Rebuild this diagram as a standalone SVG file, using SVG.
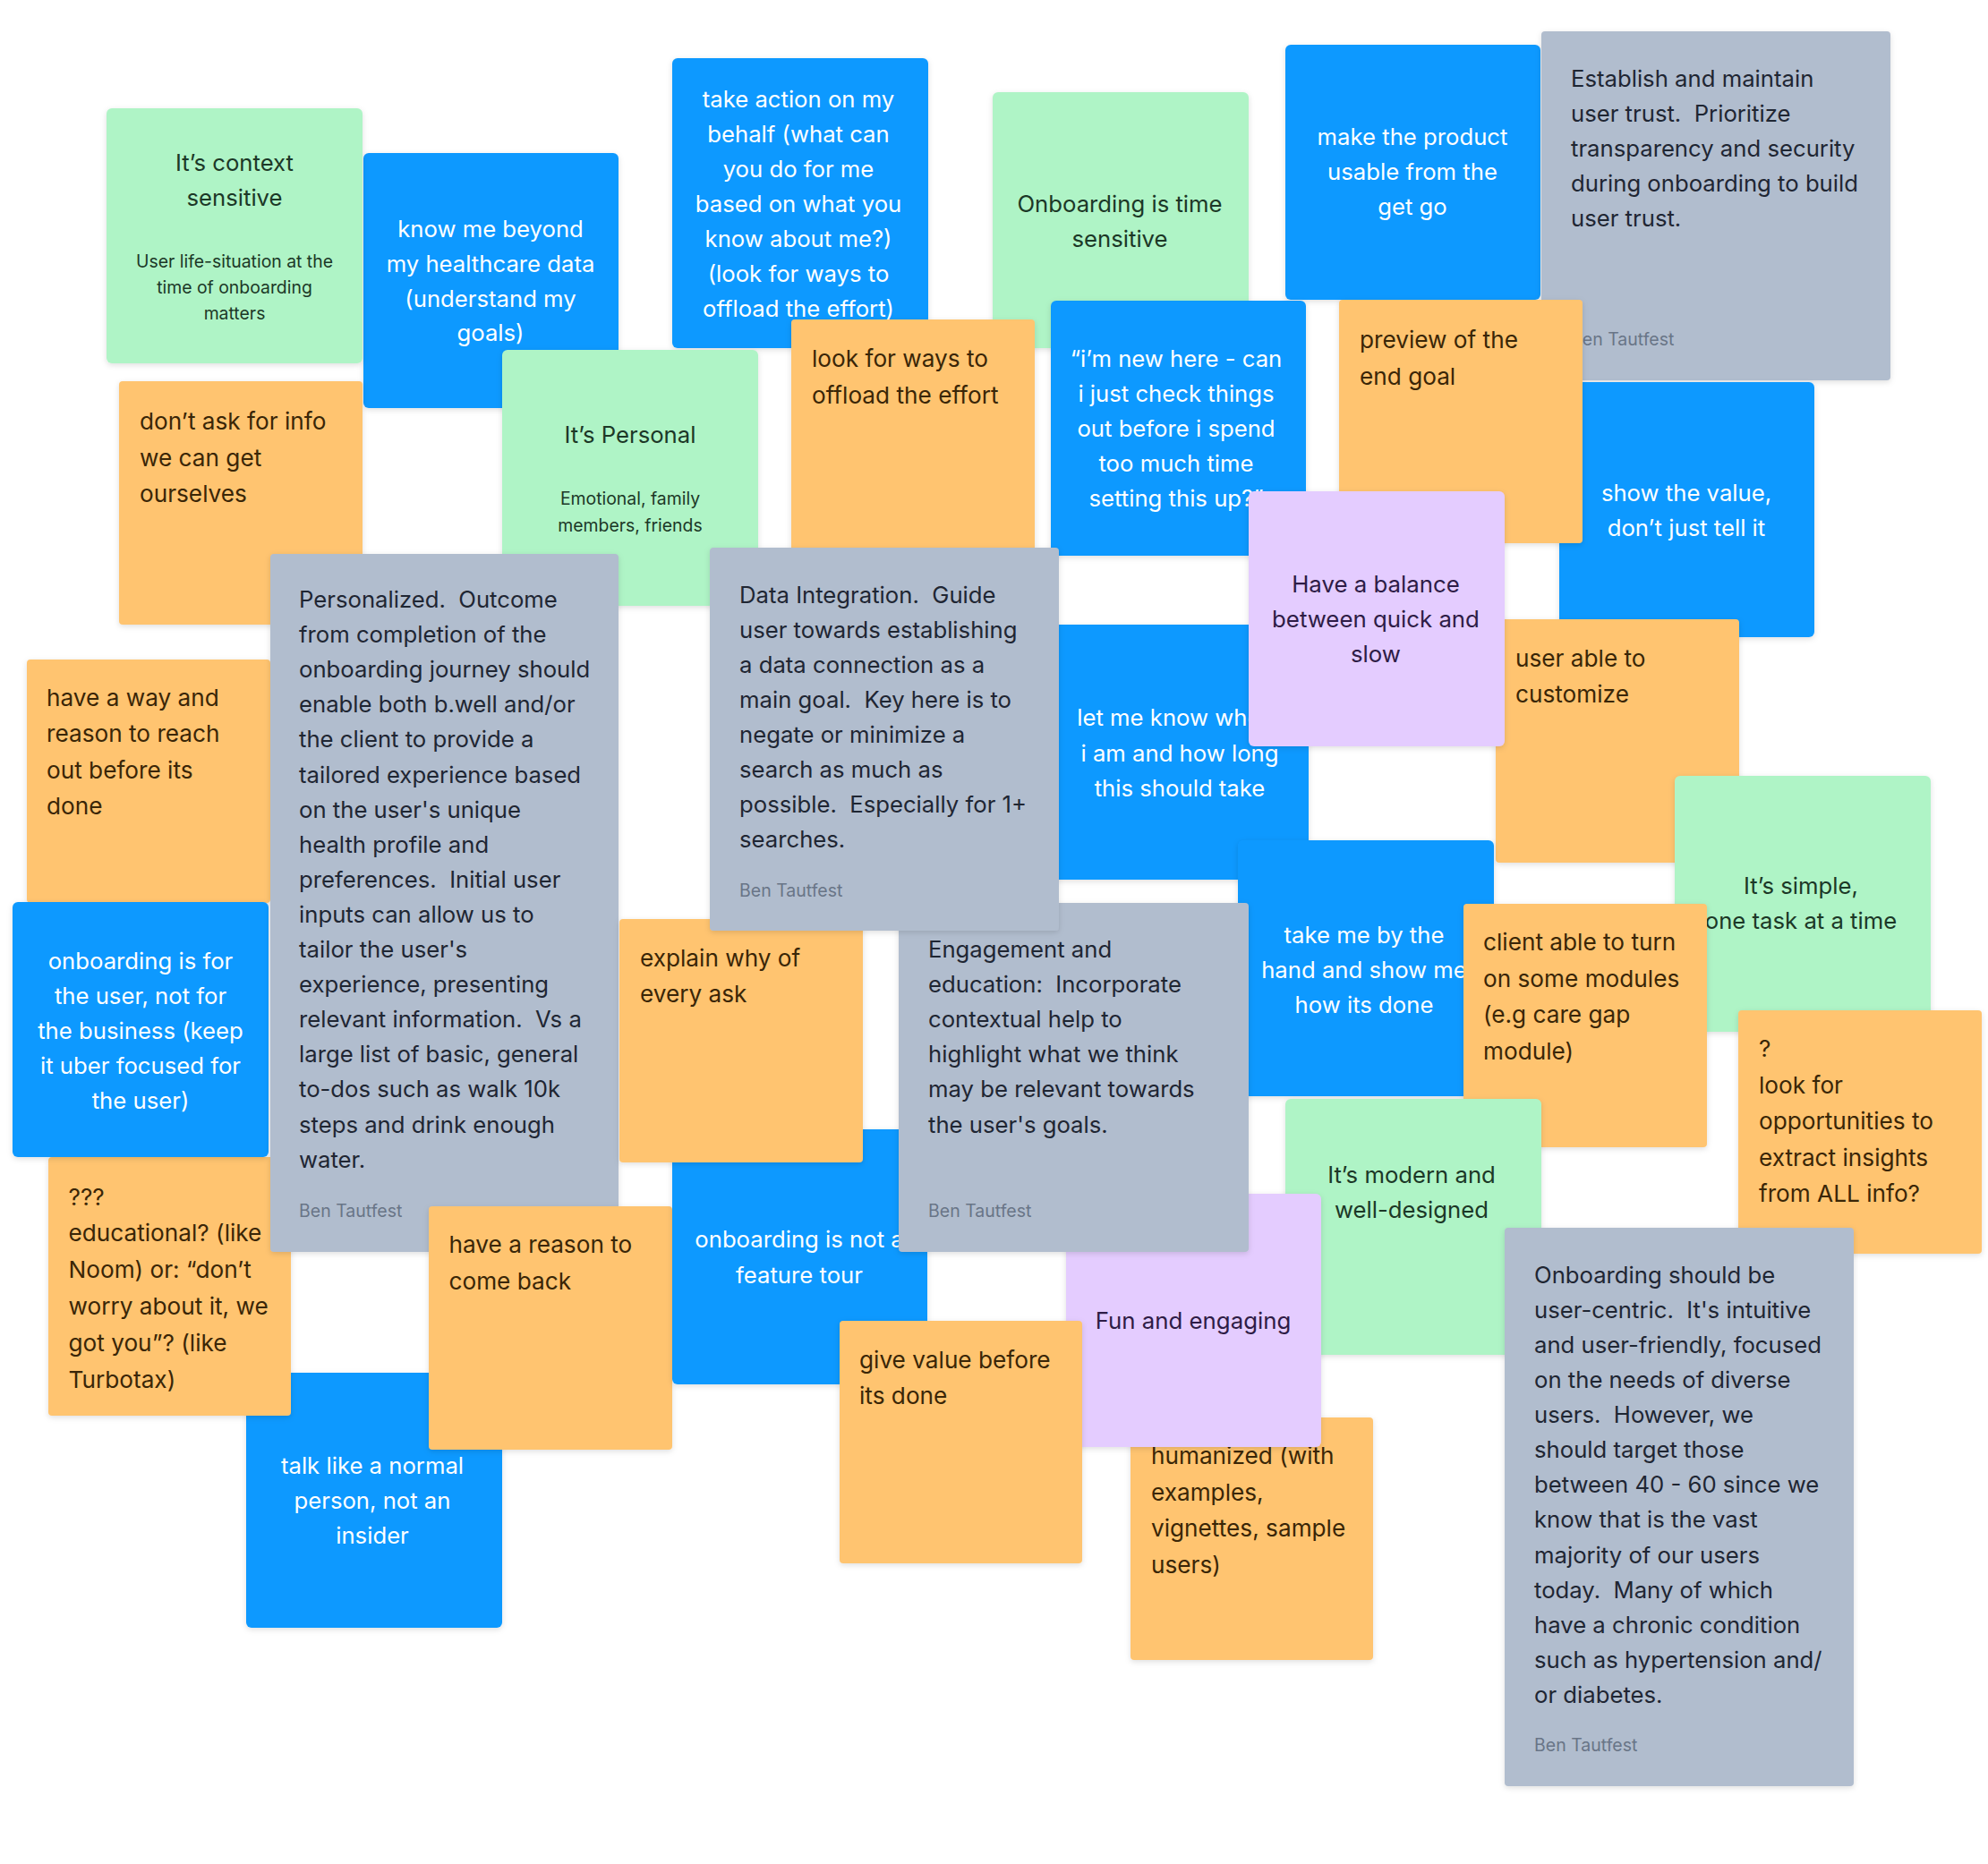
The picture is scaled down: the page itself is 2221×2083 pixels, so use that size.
<svg xmlns="http://www.w3.org/2000/svg" width="2221" height="2083" viewBox="0 0 2221 2083">
<defs>
<filter id="sh" x="-10%" y="-10%" width="120%" height="120%">
<feDropShadow dx="0" dy="2" stdDeviation="3" flood-color="#000" flood-opacity="0.13"/>
</filter>
<style>
text{font-family:Inter,"Noto Sans","Liberation Sans",sans-serif;}
.n{filter:url(#sh);}
.blue{fill:#0D99FF;}
.green{fill:#AFF4C6;}
.orange{fill:#FFC470;}
.purple{fill:#E4CCFF;}
.gray{fill:#B1BDCE;}
.tb{font-size:25.7px;fill:#FFFFFF;text-anchor:middle;}
.tg{font-size:25.7px;fill:#1C3827;text-anchor:middle;}
.ts{font-size:19.4px;fill:#1C3827;text-anchor:middle;}
.to{font-size:26.2px;fill:#3A2607;}
.tp{font-size:25.8px;fill:#2E1C46;text-anchor:middle;}
.tr{font-size:25.7px;fill:#1F2633;}
.ta{font-size:19.5px;fill:#697587;}
</style>
</defs>
<rect width="2221" height="2083" fill="#FFFFFF"/>

<g id="n-know-me"><rect class="n blue" x="406" y="171" width="285" height="285" rx="6"/>
<text class="tb"><tspan x="548" y="265">know me beyond</tspan><tspan x="548" dy="38.8">my healthcare data</tspan><tspan x="548" dy="38.8">(understand my</tspan><tspan x="548" dy="38.8">goals)</tspan></text></g>

<g id="n-context"><rect class="n green" x="119" y="121" width="286" height="285" rx="6"/>
<text class="tg"><tspan x="262" y="190.5">It’s context</tspan><tspan x="262" dy="39.7">sensitive</tspan></text>
<text class="ts"><tspan x="262" y="299">User life-situation at the</tspan><tspan x="262" dy="29">time of onboarding</tspan><tspan x="262" dy="29">matters</tspan></text></g>

<g id="n-take-action"><rect class="n blue" x="751" y="65" width="286" height="324" rx="6"/>
<text class="tb"><tspan x="892" y="119.5">take action on my</tspan><tspan x="892" dy="39">behalf (what can</tspan><tspan x="892" dy="39">you do for me</tspan><tspan x="892" dy="39">based on what you</tspan><tspan x="892" dy="39">know about me?)</tspan><tspan x="892" dy="39">(look for ways to</tspan><tspan x="892" dy="39">offload the effort)</tspan></text></g>

<g id="n-time-sensitive"><rect class="n green" x="1109" y="103" width="286" height="286" rx="6"/>
<text class="tg"><tspan x="1251" y="237">Onboarding is time</tspan><tspan x="1251" dy="39">sensitive</tspan></text></g>

<g id="n-make-usable"><rect class="n blue" x="1436" y="50" width="285" height="285" rx="6"/>
<text class="tb"><tspan x="1578" y="162">make the product</tspan><tspan x="1578" dy="39">usable from the</tspan><tspan x="1578" dy="39">get go</tspan></text></g>

<g id="n-trust"><rect class="n gray" x="1722" y="35" width="390" height="390" rx="4"/>
<text class="tr" xml:space="preserve"><tspan x="1755" y="97">Establish and maintain</tspan><tspan x="1755" dy="39.1">user trust.  Prioritize</tspan><tspan x="1755" dy="39.1">transparency and security</tspan><tspan x="1755" dy="39.1">during onboarding to build</tspan><tspan x="1755" dy="39.1">user trust.</tspan></text>
<text class="ta" x="1755" y="386">Ben Tautfest</text></g>

<g id="n-dont-ask"><rect class="n orange" x="133" y="426" width="272" height="272" rx="4"/>
<text class="to"><tspan x="156" y="480">don’t ask for info</tspan><tspan x="156" dy="40.6">we can get</tspan><tspan x="156" dy="40.6">ourselves</tspan></text></g>

<g id="n-personal"><rect class="n green" x="561" y="391" width="286" height="286" rx="6"/>
<text class="tg" x="704" y="495">It’s Personal</text>
<text class="ts"><tspan x="704" y="564">Emotional, family</tspan><tspan x="704" dy="29.7">members, friends</tspan></text></g>

<g id="n-offload"><rect class="n orange" x="884" y="357" width="272" height="272" rx="4"/>
<text class="to"><tspan x="907" y="410">look for ways to</tspan><tspan x="907" dy="40.6">offload the effort</tspan></text></g>

<g id="n-new-here"><rect class="n blue" x="1174" y="336" width="285" height="285" rx="6"/>
<text class="tb"><tspan x="1314" y="410">“i’m new here - can</tspan><tspan x="1314" dy="39">i just check things</tspan><tspan x="1314" dy="39">out before i spend</tspan><tspan x="1314" dy="39">too much time</tspan><tspan x="1314" dy="39">setting this up?”</tspan></text></g>

<g id="n-show-value"><rect class="n blue" x="1742" y="427" width="285" height="285" rx="6"/>
<text class="tb"><tspan x="1884" y="560">show the value,</tspan><tspan x="1884" dy="38.8">don’t just tell it</tspan></text></g>

<g id="n-preview"><rect class="n orange" x="1496" y="335" width="272" height="272" rx="4"/>
<text class="to"><tspan x="1519" y="389">preview of the</tspan><tspan x="1519" dy="40.6">end goal</tspan></text></g>

<g id="n-customize"><rect class="n orange" x="1671" y="692" width="272" height="272" rx="4"/>
<text class="to"><tspan x="1693" y="744.5">user able to</tspan><tspan x="1693" dy="40.6">customize</tspan></text></g>

<g id="n-let-me-know"><rect class="n blue" x="1177" y="698" width="285" height="285" rx="6"/>
<text class="tb"><tspan x="1318" y="811">let me know where</tspan><tspan x="1318" dy="39.5">i am and how long</tspan><tspan x="1318" dy="39.5">this should take</tspan></text></g>

<g id="n-balance"><rect class="n purple" x="1395" y="549" width="286" height="285" rx="6"/>
<text class="tp"><tspan x="1537" y="662">Have a balance</tspan><tspan x="1537" dy="39">between quick and</tspan><tspan x="1537" dy="39">slow</tspan></text></g>

<g id="n-reach-out"><rect class="n orange" x="30" y="737" width="272" height="272" rx="4"/>
<text class="to"><tspan x="52" y="788.5">have a way and</tspan><tspan x="52" dy="40.6">reason to reach</tspan><tspan x="52" dy="40.6">out before its</tspan><tspan x="52" dy="40.6">done</tspan></text></g>

<g id="n-talk-like"><rect class="n blue" x="275" y="1534" width="286" height="285" rx="6"/>
<text class="tb"><tspan x="416" y="1646.5">talk like a normal</tspan><tspan x="416" dy="39">person, not an</tspan><tspan x="416" dy="39">insider</tspan></text></g>

<g id="n-educational"><rect class="n orange" x="54" y="1293" width="271" height="289" rx="4"/>
<text class="to"><tspan x="76.5" y="1346.5">???</tspan><tspan x="76.5" dy="40.8">educational? (like</tspan><tspan x="76.5" dy="40.8">Noom) or: “don’t</tspan><tspan x="76.5" dy="40.8">worry about it, we</tspan><tspan x="76.5" dy="40.8">got you”? (like</tspan><tspan x="76.5" dy="40.8">Turbotax)</tspan></text></g>

<g id="n-for-user"><rect class="n blue" x="14" y="1008" width="286" height="285" rx="6"/>
<text class="tb"><tspan x="157" y="1083">onboarding is for</tspan><tspan x="157" dy="38.9">the user, not for</tspan><tspan x="157" dy="38.9">the business (keep</tspan><tspan x="157" dy="38.9">it uber focused for</tspan><tspan x="157" dy="38.9">the user)</tspan></text></g>

<g id="n-personalized"><rect class="n gray" x="302" y="619" width="389" height="780" rx="4"/>
<text class="tr" xml:space="preserve"><tspan x="334" y="679">Personalized.  Outcome</tspan><tspan x="334" dy="39.1">from completion of the</tspan><tspan x="334" dy="39.1">onboarding journey should</tspan><tspan x="334" dy="39.1">enable both b.well and/or</tspan><tspan x="334" dy="39.1">the client to provide a</tspan><tspan x="334" dy="39.1">tailored experience based</tspan><tspan x="334" dy="39.1">on the user's unique</tspan><tspan x="334" dy="39.1">health profile and</tspan><tspan x="334" dy="39.1">preferences.  Initial user</tspan><tspan x="334" dy="39.1">inputs can allow us to</tspan><tspan x="334" dy="39.1">tailor the user's</tspan><tspan x="334" dy="39.1">experience, presenting</tspan><tspan x="334" dy="39.1">relevant information.  Vs a</tspan><tspan x="334" dy="39.1">large list of basic, general</tspan><tspan x="334" dy="39.1">to-dos such as walk 10k</tspan><tspan x="334" dy="39.1">steps and drink enough</tspan><tspan x="334" dy="39.1">water.</tspan></text>
<text class="ta" x="334" y="1360">Ben Tautfest</text></g>

<g id="n-come-back"><rect class="n orange" x="479" y="1348" width="272" height="272" rx="4"/>
<text class="to"><tspan x="501.5" y="1400">have a reason to</tspan><tspan x="501.5" dy="40.6">come back</tspan></text></g>

<g id="n-simple"><rect class="n green" x="1871" y="867" width="286" height="286" rx="6"/>
<text class="tg"><tspan x="2012" y="999">It’s simple,</tspan><tspan x="2012" dy="38.6">one task at a time</tspan></text></g>

<g id="n-take-hand"><rect class="n blue" x="1383" y="939" width="286" height="286" rx="6"/>
<text class="tb"><tspan x="1524" y="1054">take me by the</tspan><tspan x="1524" dy="39">hand and show me</tspan><tspan x="1524" dy="39">how its done</tspan></text></g>

<g id="n-client-modules"><rect class="n orange" x="1635" y="1010" width="272" height="272" rx="4"/>
<text class="to"><tspan x="1657" y="1062">client able to turn</tspan><tspan x="1657" dy="40.7">on some modules</tspan><tspan x="1657" dy="40.7">(e.g care gap</tspan><tspan x="1657" dy="40.7">module)</tspan></text></g>

<g id="n-insights"><rect class="n orange" x="1942" y="1129" width="272" height="272" rx="4"/>
<text class="to"><tspan x="1965" y="1181">?</tspan><tspan x="1965" dy="40.6">look for</tspan><tspan x="1965" dy="40.6">opportunities to</tspan><tspan x="1965" dy="40.6">extract insights</tspan><tspan x="1965" dy="40.6">from ALL info?</tspan></text></g>

<g id="n-modern"><rect class="n green" x="1436" y="1228" width="286" height="286" rx="6"/>
<text class="tg"><tspan x="1577" y="1322">It’s modern and</tspan><tspan x="1577" dy="38.5">well-designed</tspan></text></g>

<g id="n-humanized"><rect class="n orange" x="1263" y="1584" width="271" height="271" rx="4"/>
<text class="to"><tspan x="1286" y="1636">humanized (with</tspan><tspan x="1286" dy="40.7">examples,</tspan><tspan x="1286" dy="40.7">vignettes, sample</tspan><tspan x="1286" dy="40.7">users)</tspan></text></g>

<g id="n-fun"><rect class="n purple" x="1191" y="1334" width="285" height="283" rx="6"/>
<text class="tp" x="1333" y="1485">Fun and engaging</text></g>

<g id="n-feature-tour"><rect class="n blue" x="751" y="1262" width="285" height="285" rx="6"/>
<text class="tb"><tspan x="893" y="1394">onboarding is not a</tspan><tspan x="893" dy="39.5">feature tour</tspan></text></g>

<g id="n-engagement"><rect class="n gray" x="1004" y="1009" width="391" height="390" rx="4"/>
<text class="tr" xml:space="preserve"><tspan x="1037" y="1070">Engagement and</tspan><tspan x="1037" dy="39.1">education:  Incorporate</tspan><tspan x="1037" dy="39.1">contextual help to</tspan><tspan x="1037" dy="39.1">highlight what we think</tspan><tspan x="1037" dy="39.1">may be relevant towards</tspan><tspan x="1037" dy="39.1">the user's goals.</tspan></text>
<text class="ta" x="1037" y="1360">Ben Tautfest</text></g>

<g id="n-explain"><rect class="n orange" x="692" y="1027" width="272" height="272" rx="4"/>
<text class="to"><tspan x="715" y="1080">explain why of</tspan><tspan x="715" dy="40">every ask</tspan></text></g>

<g id="n-data"><rect class="n gray" x="793" y="612" width="390" height="428" rx="4"/>
<text class="tr" xml:space="preserve"><tspan x="826" y="673.5">Data Integration.  Guide</tspan><tspan x="826" dy="39.1">user towards establishing</tspan><tspan x="826" dy="39.1">a data connection as a</tspan><tspan x="826" dy="39.1">main goal.  Key here is to</tspan><tspan x="826" dy="39.1">negate or minimize a</tspan><tspan x="826" dy="39.1">search as much as</tspan><tspan x="826" dy="39.1">possible.  Especially for 1+</tspan><tspan x="826" dy="39.1">searches.</tspan></text>
<text class="ta" x="826" y="1002">Ben Tautfest</text></g>

<g id="n-give-value"><rect class="n orange" x="938" y="1476" width="271" height="271" rx="4"/>
<text class="to"><tspan x="960" y="1529">give value before</tspan><tspan x="960" dy="40.3">its done</tspan></text></g>

<g id="n-user-centric"><rect class="n gray" x="1681" y="1372" width="390" height="624" rx="4"/>
<text class="tr" xml:space="preserve"><tspan x="1714" y="1434">Onboarding should be</tspan><tspan x="1714" dy="39.07">user-centric.  It's intuitive</tspan><tspan x="1714" dy="39.07">and user-friendly, focused</tspan><tspan x="1714" dy="39.07">on the needs of diverse</tspan><tspan x="1714" dy="39.07">users.  However, we</tspan><tspan x="1714" dy="39.07">should target those</tspan><tspan x="1714" dy="39.07">between 40 - 60 since we</tspan><tspan x="1714" dy="39.07">know that is the vast</tspan><tspan x="1714" dy="39.07">majority of our users</tspan><tspan x="1714" dy="39.07">today.  Many of which</tspan><tspan x="1714" dy="39.07">have a chronic condition</tspan><tspan x="1714" dy="39.07">such as hypertension and/</tspan><tspan x="1714" dy="39.07">or diabetes.</tspan></text>
<text class="ta" x="1714" y="1957">Ben Tautfest</text></g>
</svg>
